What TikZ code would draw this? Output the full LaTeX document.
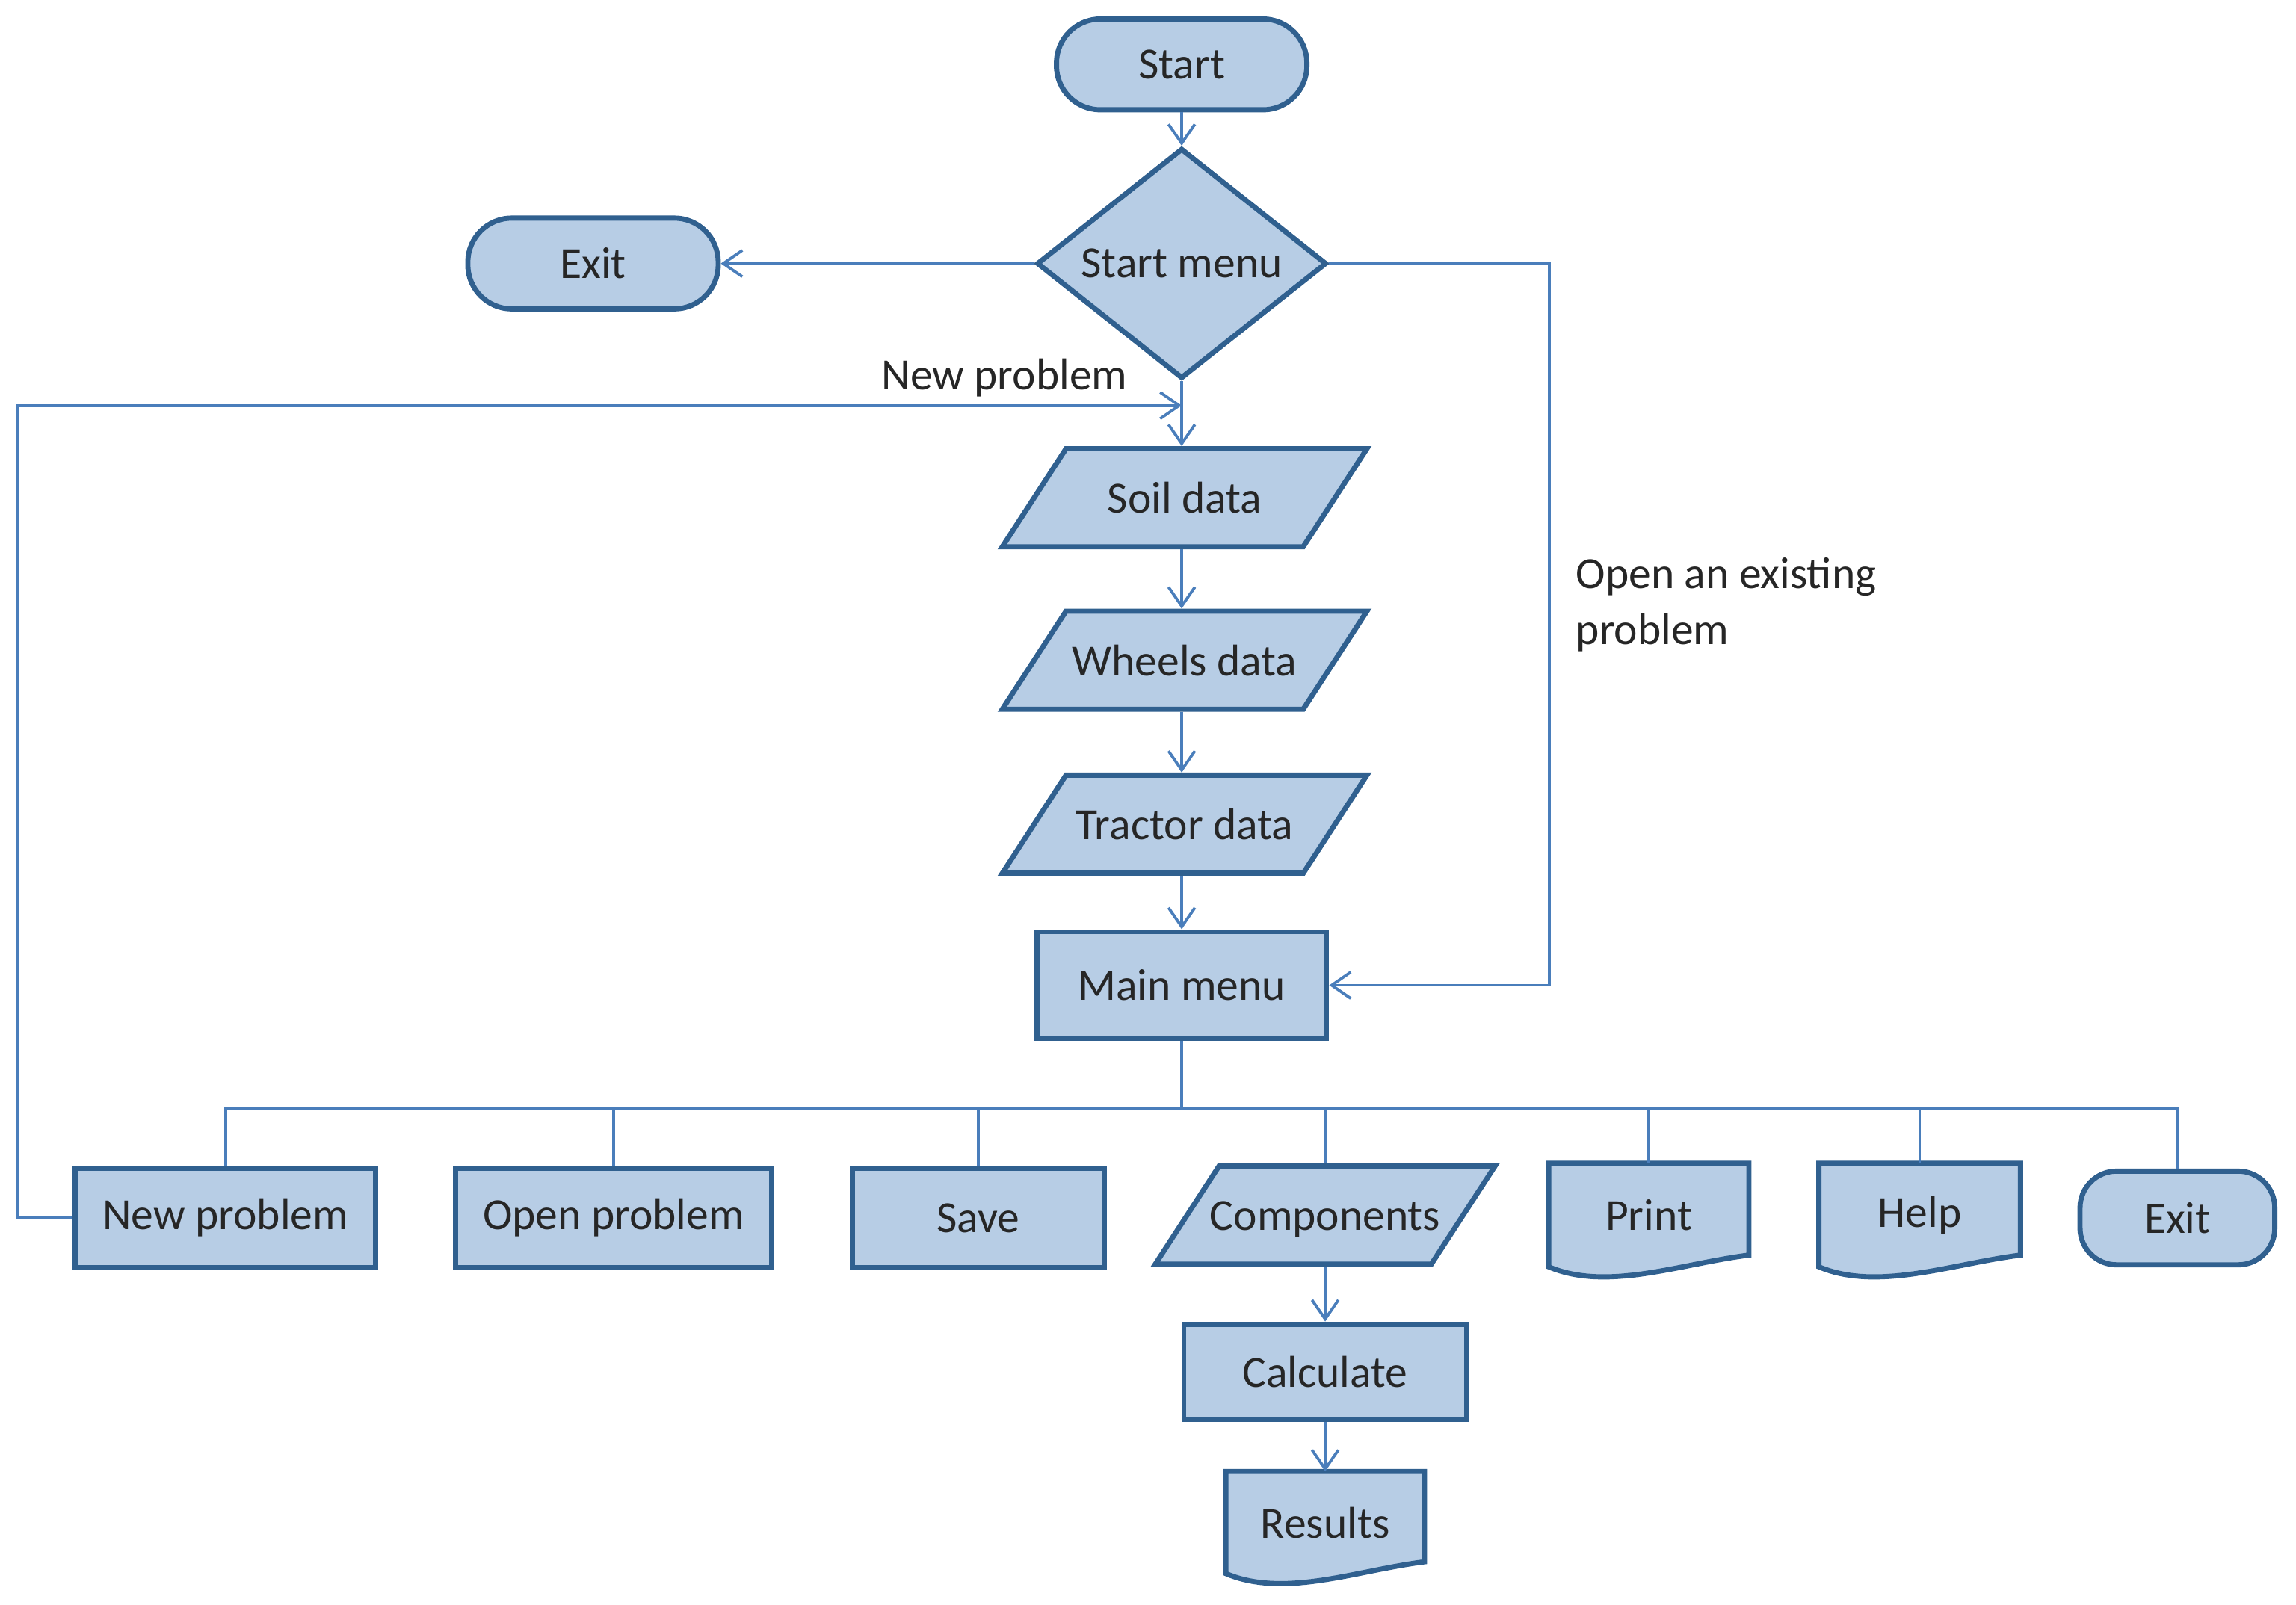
\documentclass[tikz,border=0pt]{standalone}
\usepackage{fontspec}
\setmainfont{Carlito}
\usetikzlibrary{shapes.geometric,arrows.meta,backgrounds}

\definecolor{boxfill}{HTML}{B7CDE5}
\definecolor{boxline}{HTML}{30608F}
\definecolor{linkblue}{HTML}{4A7EBB}

\begin{document}
\begin{tikzpicture}[x=0.2mm, y=-0.2mm,
	every node/.style={font=\fontsize{17.3}{21.6}\selectfont, text=black!85},
	box/.style={draw=boxline, fill=boxfill, line width=2pt, inner sep=0pt},
	term/.style={box, rectangle, rounded corners=6mm},
	proc/.style={box, rectangle},
	io/.style={box, trapezium, trapezium left angle=57, trapezium right angle=123, trapezium stretches body, text height=5.1mm, text depth=0.9mm, inner ysep=3.7mm},
	choice/.style={box, diamond},
	doc/.style={rectangle, inner sep=0pt},
	docline/.style={draw=boxline, fill=boxfill, line width=2pt},
	link/.style={draw=linkblue, line width=1.1pt},
	arr/.style={link, -{Straight Barb[length=2.6mm, width=3.6mm]}}
	]
	
	\useasboundingbox (0, 0) rectangle (1568, 1096);
	
	\node[term, minimum width=34.2mm, minimum height=12.4mm] (start) at (807, 44) {Start};
	\node[choice, minimum width=39.6mm, minimum height=27.2mm] (smenu) at (807, 180) {Start menu};
	\node[term, minimum width=34.2mm, minimum height=12.4mm] (exit1) at (405, 180) {Exit};
	\node[io, minimum width=49.8mm] (soil) at (809, 340) {Soil data};
	\node[io, minimum width=49.8mm] (wheels) at (809, 451) {Wheels data};
	\node[io, minimum width=49.8mm] (tractor) at (809, 563) {Tractor data};
	\node[proc, minimum width=39.6mm, minimum height=14.6mm] (mmenu) at (807, 673) {Main menu};
	
	\node[proc, minimum width=41mm, minimum height=13.6mm] (newp) at (154, 832) {New problem};
	\node[proc, minimum width=43.2mm, minimum height=13.6mm] (openp) at (419, 832) {Open problem};
	\node[proc, minimum width=34.4mm, minimum height=13.6mm] (save) at (668, 832) {Save};
	\node[io, inner xsep=-1.3mm, minimum width=46.4mm] (comp) at (905, 830) {Components};
	\node[doc, minimum width=27.2mm, minimum height=14mm] (print) at (1126, 830) {Print};
	\node[doc, minimum width=27.4mm, minimum height=14mm] (help) at (1311, 830) {Help};
	\node[term, rounded corners=5mm, minimum width=26.6mm, minimum height=12.8mm] (exit2) at (1487, 832) {Exit};
	\node[proc, minimum width=38.6mm, minimum height=13mm] (calc) at (905, 937) {Calculate};
	\node[doc, minimum width=27mm, minimum height=13.8mm] (res) at (905, 1040) {Results};
	
	\node (lnew) at (686, 258) {New problem};
	\node[anchor=west, align=left, inner sep=0pt] (lopen) at (1076, 413) {Open an existing\\problem};
	
	% document outlines
	\begin{scope}[on background layer]
		\foreach \d in {print, help, res}
		\draw[docline] (\d.north west) -- (\d.north east) -- ([yshift=1.6mm]\d.south east) .. controls +(-9.5mm, -1.2mm) and +(8mm, -3.4mm) .. (\d.south west) -- cycle;
	\end{scope}
	
	\coordinate (oturn) at (1058, 180);
	\coordinate (nturn) at (12, 277);
	\coordinate (njoin) at (807, 277);
	\coordinate (bus) at (807, 757);
	
	\path[arr] (start) edge (smenu);
	\path[arr] (smenu) edge (exit1);
	\draw[arr] (smenu.south) -- (smenu.south |- soil.north);
	\draw[arr] (soil.south -| smenu) -- (smenu |- wheels.north);
	\draw[arr] (wheels.south -| smenu) -- (smenu |- tractor.north);
	\draw[arr] (tractor.south -| smenu) -- (mmenu);
	\path[arr] (comp) edge (calc);
	\path[arr] (calc) edge (res);
	
	\draw[arr] (smenu.east) -- (oturn) |- (mmenu.east);
	\draw[arr] (newp.west) -| (nturn) -- (njoin);
	
	\draw[link] (mmenu.south) -- (bus);
	\foreach \b in {newp, openp, save, comp, print, help, exit2}
	\draw[link] (bus) -| (\b.north);

\end{tikzpicture}
\end{document}
